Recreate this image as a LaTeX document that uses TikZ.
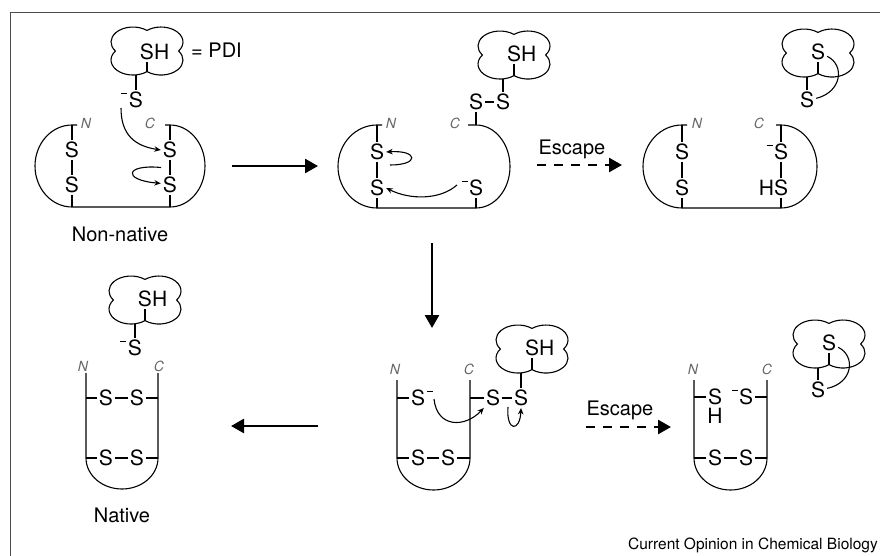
\documentclass[tikz,border=0pt]{standalone}
\usepackage{fontspec}
\setmainfont{TeX Gyre Heros}
\usetikzlibrary{calc,arrows.meta}
\newcommand{\chg}{\rule[13.4pt]{6pt}{1pt}}
\def\pdicloud(#1){\draw[bond] ($(#1)+(0,20.6)$) arc[start angle=129.5,end angle=-36.87,x radius=22,y radius=15] arc[start angle=36.87,end angle=-129.5,x radius=22,y radius=15] arc[start angle=-50.5,end angle=-216.87,x radius=22,y radius=15] arc[start angle=216.87,end angle=50.5,x radius=22,y radius=15] -- cycle;
	\coordinate (#1-cusp) at ($(#1)+(0,20.6)$);
	\coordinate (#1-foot) at ($(#1)+(0,23.8)$);}
\tikzset{
	bond/.style={line width=1.1pt},
	atom/.style={font=\fontsize{21}{25}\selectfont, inner xsep=2pt, inner ysep=2.2pt, text height=15.1pt, text depth=0pt},
	term/.style={font=\itshape\fontsize{14}{16}\selectfont, text=black!60, inner sep=0pt},
	caption/.style={font=\fontsize{20}{24}\selectfont, inner sep=0pt, text height=14.4pt, text depth=0pt},
	react/.style={line width=2.6pt, -{Triangle[length=13pt,width=14pt]}},
	escape/.style={react, dash pattern=on 9pt off 8pt},
	push/.style={line width=1.1pt, -{Stealth[length=6.5pt,width=5.5pt]}},
}

\begin{document}
\begin{tikzpicture}[x=1pt,y=-1pt]
	%%%%% START %%%%%
	\useasboundingbox (0,0) rectangle (880,556);
	\draw[black!70, line width=0.8pt] (10,556) -- (10,12) -- (880,12);
	
	% non-native protein with free PDI
	\coordinate (pdiA) at (147,51);
	\pdicloud(pdiA)
	\node[atom] (shA) at (147,52) {S\rlap{H}};
	\node[caption, anchor=west] (eqPDI) at (191,50) {= PDI};
	\node[atom] (sA) at (136,100) {\llap{\chg\kern1.5pt}S};
	\draw[bond] (shA) -- (pdiA-cusp);
	\draw[bond] (sA) -- (sA |- pdiA-foot);
	
	\coordinate (aNt) at (72,125); \coordinate (aNb) at (72,207);
	\coordinate (aCt) at (170,125); \coordinate (aCb) at (170,207);
	\draw[bond] ($(aNt)+(5,0)$) -- (aNt) arc[start angle=-90,end angle=-270,x radius=37,y radius=41] -- (aCb) arc[start angle=90,end angle=-90,x radius=35,y radius=41] -- ($(aCt)+(-5,0)$);
	\node[atom] (aN1) at (72,150) {S};
	\node[atom] (aN2) at (72,185) {S};
	\node[atom] (aC1) at (170,150) {S};
	\node[atom] (aC2) at (170,185) {S};
	\draw[bond] (aNt) -- (aN1) -- (aN2) -- (aNb);
	\draw[bond] (aCt) -- (aC1) -- (aC2) -- (aCb);
	\node[term] (aN) at (86,123) {N};
	\node[term] (aC) at (150,123) {C};
	\draw[push] ($(sA)+(-15,8)$) .. controls (121,135) and (135,146) .. (aC1.west);
	\draw[push] ($(aC1)!0.5!(aC2)+(-9,0)$) .. controls (125,164) and (122,180) .. (aC2.170);
	\node[caption] (nonnative) at (120,234) {Non-native};
	
	\coordinate (r1s) at (232,166); \coordinate (r1e) at (318,166);
	\draw[react] (r1s) -- (r1e);
	
	% mixed disulfide
	\coordinate (pdiB) at (514,55);
	\pdicloud(pdiB)
	\node[atom] (shB) at (514,54) {S\rlap{H}};
	\node[atom] (bS1) at (476,102) {S};
	\node[atom] (bS2) at (503,102) {S};
	\draw[bond] (shB) -- (pdiB-cusp);
	\draw[bond] (bS2) -- (bS2 |- pdiB-foot);
	\draw[bond] (bS1) -- (bS2);
	
	\coordinate (bNt) at (377,125); \coordinate (bNb) at (377,208);
	\coordinate (bCt) at (476,125); \coordinate (bCb) at (476,208);
	\draw[bond] ($(bNt)+(5,0)$) -- (bNt) arc[start angle=-90,end angle=-270,x radius=39,y radius=41.5] -- (bCb) arc[start angle=90,end angle=-90,x radius=34,y radius=41.5] -- ($(bCt)+(-8,0)$);
	\node[atom] (bN1) at (377,152) {S};
	\node[atom] (bN2) at (377,188) {S};
	\node[atom] (bC2) at (476,188) {\llap{\chg\kern1.5pt}S};
	\draw[bond] (bNt) -- (bN1) -- (bN2) -- (bNb);
	\draw[bond] (bC2) -- (bCb);
	\draw[bond] (bS1) -- (bCt);
	\node[term] (bN) at (391,123) {N};
	\node[term] (bC) at (455,123) {C};
	\draw[push] ($(bN1)!0.5!(bN2)+(13,-5)$) .. controls (420,165) and (418,150) .. (bN1.east);
	\draw[push] ($(bC2)+(-19,-3)$) .. controls (440,200) and (410,200) .. (bN2.east);
	
	\node[caption] (escA) at (572,147) {Escape};
	\coordinate (e1s) at (537,165); \coordinate (e1e) at (622,165);
	\draw[escape] (e1s) -- (e1e);
	
	% PDI oxidised, protein reduced
	\coordinate (pdiC) at (818,53);
	\pdicloud(pdiC)
	\node[atom] (cIn) at (818,52) {S};
	\node[atom] (cOut) at (807,100) {S};
	\draw[bond] (cIn) -- (pdiC-cusp);
	\draw[bond] (cOut) -- (cOut |- pdiC-foot);
	\draw[bond] (cIn.-25) .. controls (845,65) and (842,92) .. (cOut.10);
	
	\coordinate (cNt) at (682,125); \coordinate (cNb) at (682,208);
	\coordinate (cCt) at (781,125); \coordinate (cCb) at (781,208);
	\draw[bond] ($(cNt)+(5,0)$) -- (cNt) arc[start angle=-90,end angle=-270,x radius=39,y radius=41.5] -- (cCb) arc[start angle=90,end angle=-90,x radius=36,y radius=41.5] -- ($(cCt)+(-5,0)$);
	\node[atom] (cN1) at (682,152) {S};
	\node[atom] (cN2) at (682,188) {S};
	\node[atom] (cC1) at (781,152) {\llap{\chg\kern1.5pt}S};
	\node[atom] (cC2) at (781,188) {\llap{H}S};
	\draw[bond] (cNt) -- (cN1) -- (cN2) -- (cNb);
	\draw[bond] (cCt) -- (cC1) -- (cC2) -- (cCb);
	\node[term] (cN) at (697,123) {N};
	\node[term] (cC) at (759,123) {C};
	
	\coordinate (r2s) at (432,243); \coordinate (r2e) at (432,328);
	\draw[react] (r2s) -- (r2e);
	
	% second mixed disulfide
	\coordinate (pdiD) at (532,349);
	\pdicloud(pdiD)
	\node[atom] (shD) at (532,348) {S\rlap{H}};
	\coordinate (dNt) at (397,380); \coordinate (dNb) at (397,458);
	\coordinate (dCt) at (470,380); \coordinate (dCb) at (470,458);
	\draw[bond] (dNt) -- (dNb) arc[start angle=180,end angle=0,x radius=36.5,y radius=32] -- (dCt);
	\node[atom] (dS1) at (418,398) {S\rlap{\kern2pt\chg}};
	\node[atom] (dS2) at (493,398) {S};
	\node[atom] (dS3) at (521,398) {S};
	\node[atom] (dS4) at (418,458) {S};
	\node[atom] (dS5) at (448,458) {S};
	\draw[bond] (shD) -- (pdiD-cusp);
	\draw[bond] (dS3) -- (dS3 |- pdiD-foot);
	\draw[bond] (dS1) -- (dS1 -| dNt);
	\draw[bond] (dS2) -- (dS2 -| dCt);
	\draw[bond] (dS2) -- (dS3);
	\draw[bond] (dS4) -- (dS4 -| dNt);
	\draw[bond] (dS4) -- (dS5);
	\draw[bond] (dS5) -- (dS5 -| dCt);
	\node[term] (dN) at (395,369) {N};
	\node[term] (dC) at (469,369) {C};
	\draw[push] ($(dS1)+(16,1)$) .. controls (437,428) and (465,428) .. (dS2.south west);
	\draw[push] ($(dS3)+(-13,9)$) .. controls (506,432) and (520,432) .. (dS3.south);
	
	\coordinate (r3s) at (318,426); \coordinate (r3e) at (231,426);
	\draw[react] (r3s) -- (r3e);
	
	% native protein
	\coordinate (pdiE) at (145,300);
	\pdicloud(pdiE)
	\node[atom] (shE) at (145,299) {S\rlap{H}};
	\node[atom] (sE) at (135,348) {\llap{\chg\kern1.5pt}S};
	\draw[bond] (shE) -- (pdiE-cusp);
	\draw[bond] (sE) -- (sE |- pdiE-foot);
	\coordinate (eNt) at (86,373); \coordinate (eNb) at (86,458);
	\coordinate (eCt) at (158,373); \coordinate (eCb) at (158,458);
	\draw[bond] (eNt) -- (eNb) arc[start angle=180,end angle=0,x radius=36,y radius=31] -- (eCt);
	\node[atom] (eS1) at (106,398) {S};
	\node[atom] (eS2) at (137,398) {S};
	\node[atom] (eS3) at (106,458) {S};
	\node[atom] (eS4) at (137,458) {S};
	\draw[bond] (eS1) -- (eS1 -| eNt);
	\draw[bond] (eS1) -- (eS2);
	\draw[bond] (eS2) -- (eS2 -| eCt);
	\draw[bond] (eS3) -- (eS3 -| eNt);
	\draw[bond] (eS3) -- (eS4);
	\draw[bond] (eS4) -- (eS4 -| eCt);
	\node[term] (eN) at (83,366) {N};
	\node[term] (eC) at (159,366) {C};
	\node[caption] (native) at (122,515) {Native};
	
	% escape from the second mixed disulfide
	\node[caption] (escB) at (620,408) {Escape};
	\coordinate (e2s) at (586,427); \coordinate (e2e) at (671,427);
	\draw[escape] (e2s) -- (e2e);
	
	\coordinate (fNt) at (694,380); \coordinate (fNb) at (694,458);
	\coordinate (fCt) at (767,380); \coordinate (fCb) at (767,458);
	\draw[bond] (fNt) -- (fNb) arc[start angle=180,end angle=0,x radius=36.5,y radius=32] -- (fCt);
	\node[atom] (fS1) at (715,397) {S};
	\node[atom, inner ysep=0pt, anchor=north] (fH) at ($(fS1.south)+(0,1.5)$) {H};
	\node[atom] (fS2) at (746,397) {\llap{\chg\kern1.5pt}S};
	\node[atom] (fS3) at (715,458) {S};
	\node[atom] (fS4) at (746,458) {S};
	\draw[bond] (fS1) -- (fS1 -| fNt);
	\draw[bond] (fS2) -- (fS2 -| fCt);
	\draw[bond] (fS3) -- (fS3 -| fNt);
	\draw[bond] (fS3) -- (fS4);
	\draw[bond] (fS4) -- (fS4 -| fCt);
	\node[term] (fN) at (693,369) {N};
	\node[term] (fC) at (767,369) {C};
	
	\coordinate (pdiF) at (829,344);
	\pdicloud(pdiF)
	\node[atom] (fIn) at (829,343) {S};
	\node[atom] (fOut) at (818,390) {S};
	\draw[bond] (fIn) -- (pdiF-cusp);
	\draw[bond] (fOut) -- (fOut |- pdiF-foot);
	\draw[bond] (fIn.-25) .. controls (856,356) and (853,383) .. (fOut.10);
	
	\node[anchor=east, font=\fontsize{15.5}{18}\selectfont, inner sep=0pt] (credit) at (878,545) {Current Opinion in Chemical Biology};
	%%%%% END %%%%%
\end{tikzpicture}
\end{document}
